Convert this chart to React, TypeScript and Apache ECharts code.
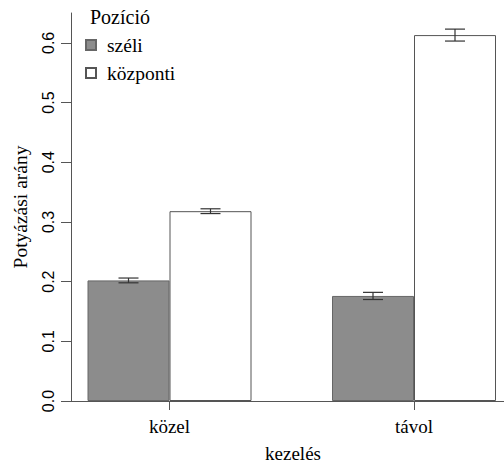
import React, { useEffect, useRef } from "react";
import * as echarts from "echarts";

const categories = ["közel", "távol"];
const seriesNames = ["széli", "központi"];
const szeliValues = [0.202, 0.176];
const szeliErrors = [0.004, 0.006];
const kozpontiValues = [0.318, 0.613];
const kozpontiErrors = [0.004, 0.01];
const yTickValues = [0, 0.1, 0.2, 0.3, 0.4, 0.5, 0.6];

const BAR_W = 82;
const CAP_W = 20;
const SERIF = "'Liberation Serif', 'DejaVu Serif', serif";
const SANS = "'Liberation Sans', Arial, sans-serif";
const AXIS_COLOR = "#555";

function errorSeries(name: string, values: number[], errors: number[], dx: number) {
  return {
    type: "custom",
    name: name + "_err",
    xAxisIndex: 0,
    yAxisIndex: 0,
    z: 5,
    silent: true,
    encode: { x: 0, y: 1 },
    data: values.map((v, i) => [i, v, errors[i]]),
    renderItem: (params: any, api: any) => {
      const i = api.value(0);
      const v = api.value(1);
      const e = api.value(2);
      const top = api.coord([i, v + e]);
      const bot = api.coord([i, v - e]);
      const x = top[0] + dx;
      const style = { stroke: "#333", lineWidth: 1.2 };
      return {
        type: "group",
        children: [
          { type: "line", shape: { x1: x, y1: top[1], x2: x, y2: bot[1] }, style },
          { type: "line", shape: { x1: x - CAP_W / 2, y1: top[1], x2: x + CAP_W / 2, y2: top[1] }, style },
          { type: "line", shape: { x1: x - CAP_W / 2, y1: bot[1], x2: x + CAP_W / 2, y2: bot[1] }, style },
        ],
      };
    },
  };
}

export default function App() {
  const ref = useRef<HTMLDivElement>(null);
  useEffect(() => {
    if (!ref.current) return;
    const chart = echarts.init(ref.current, undefined, { renderer: "svg" });
    chart.setOption({
      animation: false,
      backgroundColor: "#fff",
      title: {
        text: "Pozíció",
        left: 90,
        top: 7,
        padding: 0,
        textStyle: { fontFamily: SERIF, fontSize: 20, fontWeight: "normal", color: "#000" },
      },
      legend: {
        data: seriesNames,
        orient: "vertical",
        left: 85,
        top: 35,
        padding: 0,
        itemWidth: 10,
        itemHeight: 10,
        itemGap: 8,
        icon: "rect",
        textStyle: { fontFamily: SERIF, fontSize: 19.5, color: "#000", lineHeight: 19, padding: [0, 0, 0, 6] },
      },
      grid: [
        { left: 47.25, right: -32.25, top: 13, bottom: 63, outerBoundsMode: "none", containLabel: false },
        { left: 71, right: -11, top: 13, bottom: 63, outerBoundsMode: "none", containLabel: false },
      ],
      xAxis: [
        {
          type: "category",
          gridIndex: 0,
          data: categories,
          axisLine: { show: false },
          axisTick: { show: true, alignWithLabel: true, length: 9, lineStyle: { color: AXIS_COLOR } },
          axisLabel: { margin: 16, fontFamily: SERIF, fontSize: 19, color: "#000" },
        },
        {
          type: "value",
          gridIndex: 1,
          min: 0,
          max: 1,
          axisLine: { show: true, lineStyle: { color: AXIS_COLOR } },
          axisTick: { show: false },
          axisLabel: { show: false },
          splitLine: { show: false },
          name: "kezelés",
          nameLocation: "middle",
          nameGap: 43,
          nameTextStyle: { fontFamily: SERIF, fontSize: 19, color: "#000" },
        },
      ],
      yAxis: [
        {
          type: "value",
          gridIndex: 0,
          min: 0,
          max: 0.65,
          show: false,
          splitLine: { show: false },
        },
        {
          type: "value",
          gridIndex: 1,
          min: 0,
          max: 0.65,
          axisLine: { show: true, lineStyle: { color: AXIS_COLOR } },
          axisTick: { show: true, length: 10, customValues: yTickValues, lineStyle: { color: AXIS_COLOR } },
          axisLabel: {
            customValues: yTickValues,
            rotate: 90,
            margin: 15,
            fontFamily: SANS,
            fontSize: 16,
            color: "#000",
            formatter: (v: number) => v.toFixed(1),
          },
          splitLine: { show: false },
          name: "Potyázási arány",
          nameLocation: "middle",
          nameGap: 41,
          nameTextStyle: { fontFamily: SERIF, fontSize: 19.5, color: "#000" },
        },
      ],
      series: [
        {
          type: "bar",
          name: seriesNames[0],
          xAxisIndex: 0,
          yAxisIndex: 0,
          barWidth: BAR_W,
          barGap: "0%",
          data: szeliValues,
          itemStyle: { color: "#8c8c8c", borderColor: "#666", borderWidth: 1 },
        },
        {
          type: "bar",
          name: seriesNames[1],
          xAxisIndex: 0,
          yAxisIndex: 0,
          barWidth: BAR_W,
          barGap: "0%",
          data: kozpontiValues,
          itemStyle: { color: "#ffffff", borderColor: "#555", borderWidth: 1 },
        },
        errorSeries(seriesNames[0], szeliValues, szeliErrors, -BAR_W / 2),
        errorSeries(seriesNames[1], kozpontiValues, kozpontiErrors, BAR_W / 2),
      ],
    });
    return () => chart.dispose();
  }, []);
  return <div ref={ref} style={{ width: 504, height: 464, position: "absolute", left: 0, top: 0 }} />;
}
